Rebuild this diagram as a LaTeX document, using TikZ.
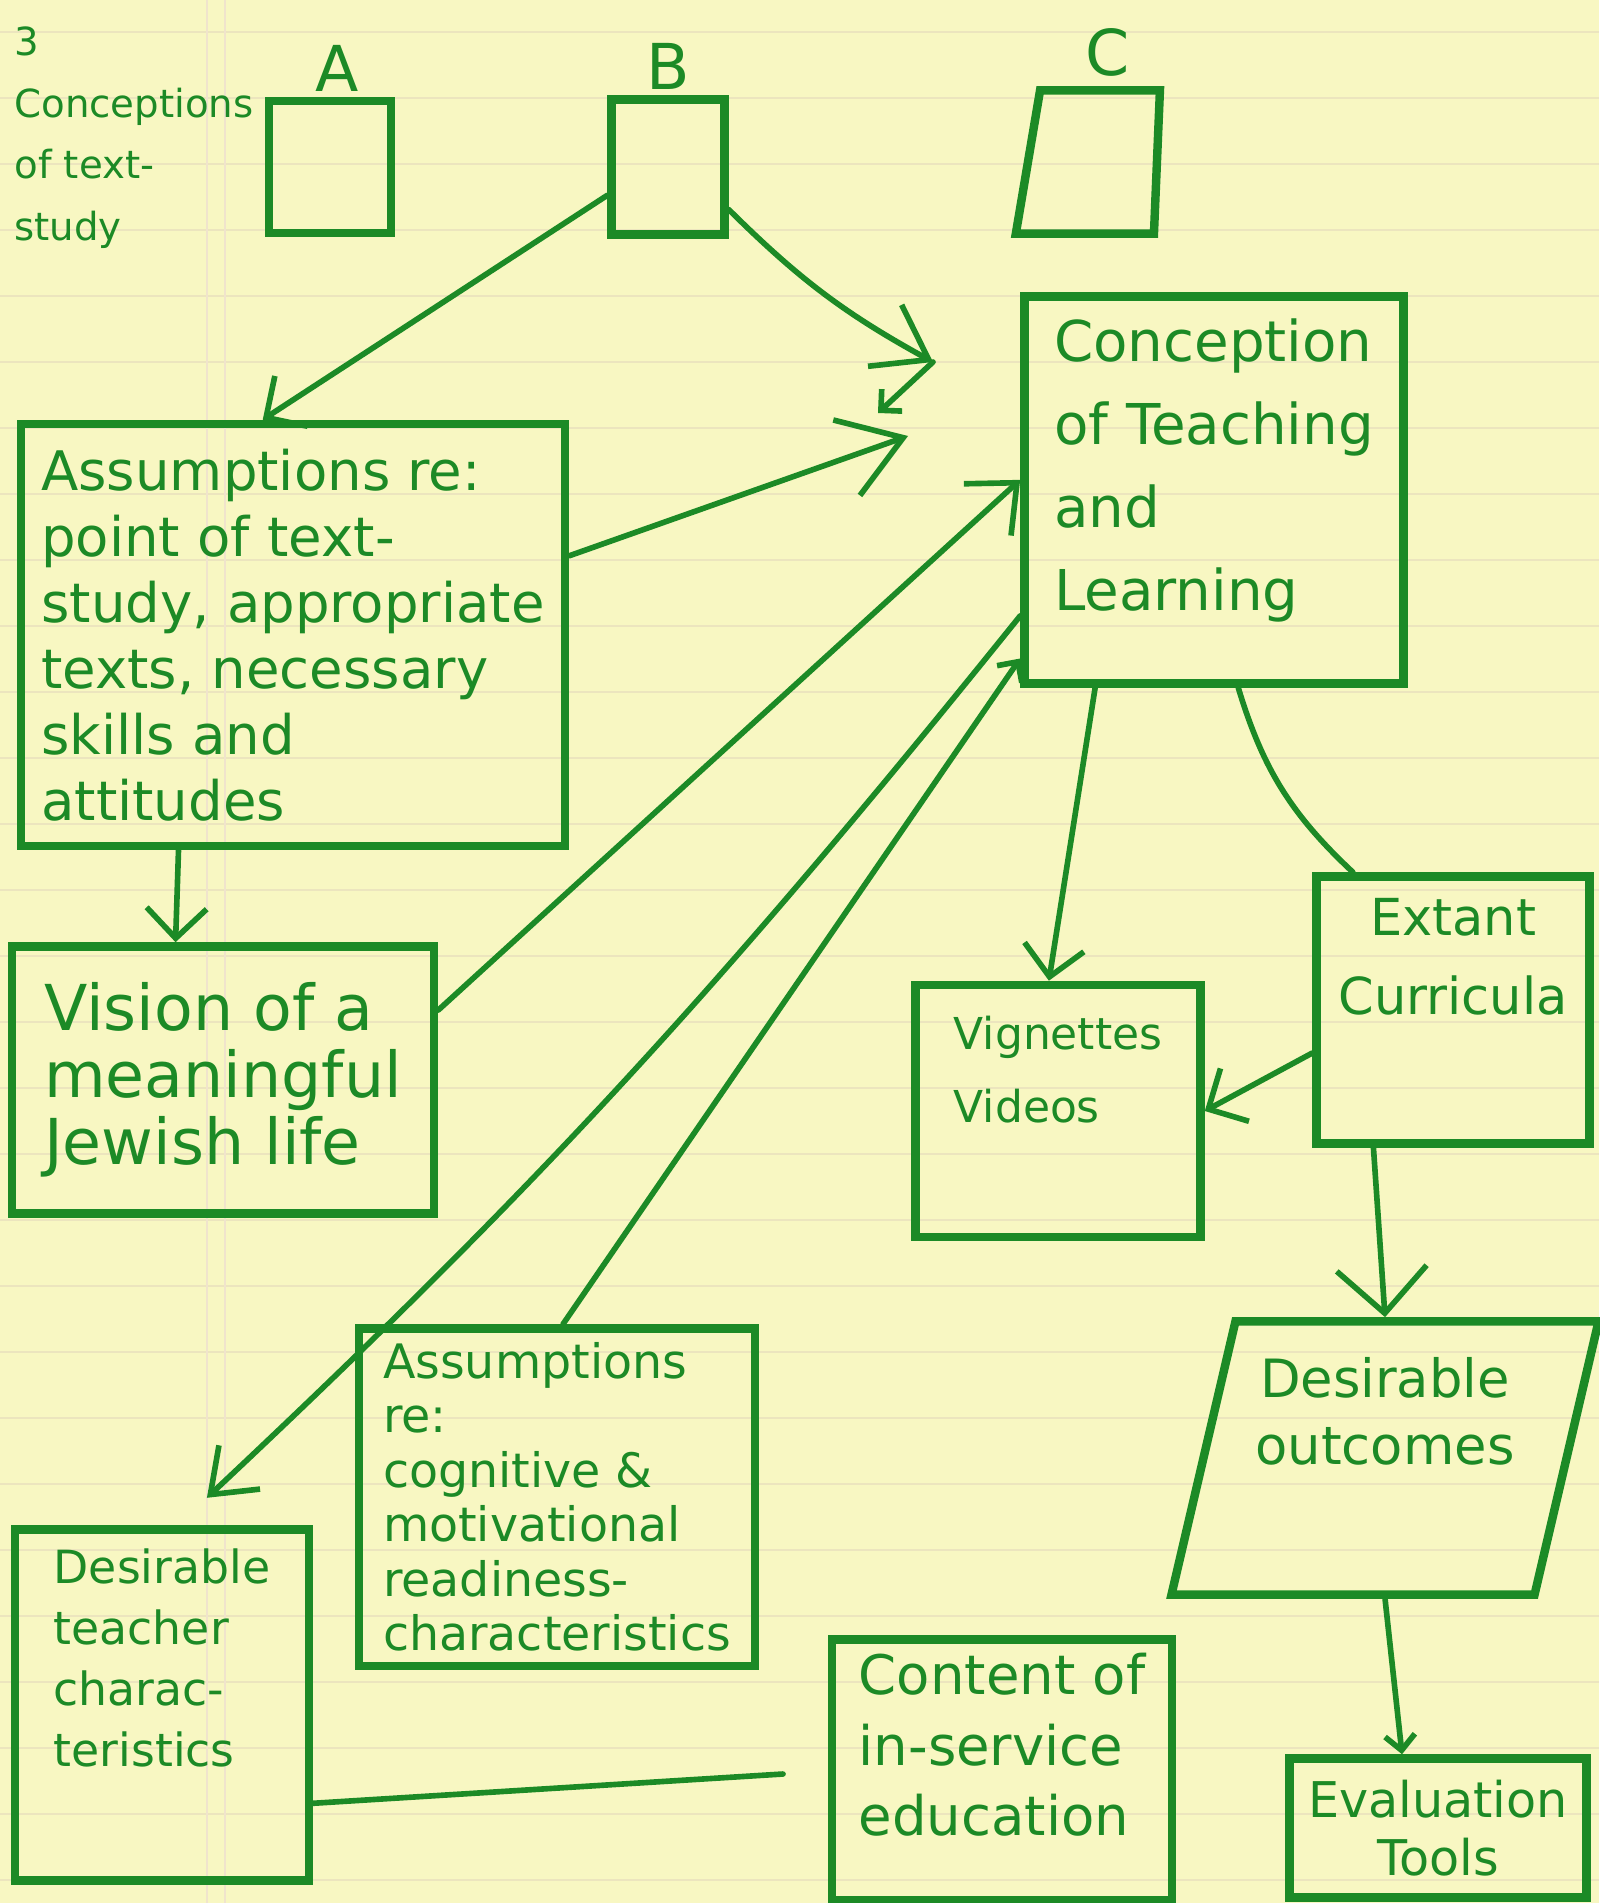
\documentclass[tikz,border=0pt]{standalone}
\usepackage{fontspec}
\setmainfont{DejaVu Sans}
\usetikzlibrary{shapes.geometric, arrows.meta, positioning}
\definecolor{ink}{RGB}{28,138,38}
\definecolor{paper}{RGB}{248,247,194}
\definecolor{ruled}{RGB}{236,229,190}
\definecolor{marg}{RGB}{240,228,204}

\begin{document}
\begin{tikzpicture}[
  x=0.01cm, y=-0.01cm,
  font=\fontsize{14}{19}\selectfont,
  box/.style={draw=ink, text=ink, line width=2.4pt, align=left, inner sep=4pt},
  tbox/.style={box, trapezium, trapezium stretches=true},
  lbl/.style={text=ink, font=\fontsize{18}{20}\selectfont},
  arr/.style={->, >={Straight Barb[length=3mm,width=6mm]}, draw=ink,
              line width=1.6pt, line cap=round},
  ln/.style={draw=ink, line width=1.6pt, line cap=round},
]
\useasboundingbox (0,0) rectangle (1599,1903);

%% Paper
\fill[paper] (0,0) rectangle (1599,1903);
\foreach \k in {0,...,28}
  \draw[ruled, line width=0.5pt] (0,32+66*\k) -- (1599,32+66*\k);
\draw[marg, line width=0.5pt] (207,0) -- (207,1903);
\draw[marg, line width=0.5pt] (225,0) -- (225,1903);

%% Top row
\node[anchor=north west, text=ink, align=left,
      font=\fontsize{11}{17.6}\selectfont] (title) at (2,14)
      {3\\Conceptions\\of text-\\study};
\node[box, minimum width=1.22cm, minimum height=1.32cm] (boxA) at (330,167) {};
\node[box, minimum width=1.13cm, minimum height=1.35cm] (boxB) at (668,167) {};
\node[tbox, trapezium left angle=78, trapezium right angle=93,
      minimum width=1.44cm, minimum height=1.43cm] (boxC) at (1097,162) {};
\node[lbl] (labA) at (337,68) {A};
\node[lbl] (labB) at (668,66) {B};
\node[lbl] (labC) at (1108,52) {C};

%% Left column
\node[box, minimum width=5.44cm, minimum height=4.22cm,
      font=\fontsize{15.5}{18.8}\selectfont] (assum) at (293,635)
      {Assumptions re:\\point of text-\\study, appropriate\\texts, necessary\\skills and\\attitudes};
\node[box, minimum width=4.22cm, minimum height=2.67cm,
      font=\fontsize{18}{19}\selectfont] (vision) at (223,1080)
      {Vision of a\\meaningful\\Jewish life};
\node[box, minimum width=2.94cm, minimum height=3.51cm, text depth=0.95cm,
      font=\fontsize{13}{17.3}\selectfont] (teacher) at (162,1705)
      {Desirable\\teacher\\charac-\\teristics};
\node[box, minimum width=3.96cm, minimum height=3.35cm,
      font=\fontsize{13.5}{15.5}\selectfont] (assumr) at (557,1497)
      {Assumptions\\re:\\cognitive \&\\motivational\\readiness-\\characteristics};

%% Right side
\node[box, minimum width=3.79cm, minimum height=3.87cm, text depth=0.51cm,
      font=\fontsize{16}{23.6}\selectfont] (concept) at (1214,490)
      {Conception\\of Teaching\\and\\Learning};
\node[box, minimum width=2.85cm, minimum height=2.52cm, text depth=0.84cm,
      font=\fontsize{12.5}{20.8}\selectfont] (vign) at (1058,1111)
      {Vignettes\\Videos};
\node[box, align=center, minimum width=2.73cm, minimum height=2.67cm,
      text depth=1.08cm, font=\fontsize{14.5}{22.5}\selectfont] (extant) at (1453,1010)
      {Extant\\Curricula};
\node[tbox, align=center, trapezium left angle=75, trapezium right angle=105,
      minimum width=4.27cm, minimum height=2.73cm, text depth=0.94cm,
      font=\fontsize{15}{19}\selectfont] (outcome) at (1385,1458)
      {Desirable\\outcomes};
\node[box, minimum width=3.40cm, minimum height=2.56cm, text depth=0.51cm,
      font=\fontsize{15.5}{20}\selectfont] (content) at (1002,1770)
      {Content of\\in-service\\education};
\node[box, align=center, minimum width=2.97cm, minimum height=1.39cm,
      font=\fontsize{14}{16.5}\selectfont] (evalt) at (1438,1828)
      {Evaluation\\Tools};

%% Loose ends
\coordinate (hub) at (933,362);
\coordinate (hubend) at (878,413);
\coordinate (hubin) at (908,436);
\coordinate (lineend) at (783,1774);

%% Connectors
\draw[arr] (boxB.205) -- (assum.98);
\draw[arr, >={Straight Barb[length=5mm,width=7mm]}] (boxB.-35) to[bend right=8] (hub);
\draw[arr, >={Straight Barb[length=1.5mm,width=3mm]}] (hub) -- (hubend);
\draw[arr, >={Straight Barb[length=6mm,width=8mm]}] (assum.16) -- (hubin);
\draw[arr] (assum.242) -- (vision.109);
\draw[arr, >={Straight Barb[length=4mm,width=7mm]}] (vision.18) -- (concept.177);
\draw[arr, >={Straight Barb[length=4mm,width=6mm]}, shorten >=4mm] (concept.213) to[bend left=4] (teacher.85);
\draw[arr, >={Straight Barb[length=1.5mm,width=3mm]}] (assumr.88) -- (concept.221);
\draw[arr] (concept.239) -- (vign.94);
\draw[ln] (concept.-83) to[bend right=15] (extant.126);
\draw[arr] (extant.197) -- (vign.east);
\draw[arr, >={Straight Barb[length=4.5mm,width=9mm]}] (extant.240) -- (outcome.north);
\draw[arr, >={Straight Barb[length=1.5mm,width=3mm]}] (outcome.south) -- (evalt.116);
\draw[ln] (teacher.-33) -- (lineend);

\end{tikzpicture}
\end{document}
